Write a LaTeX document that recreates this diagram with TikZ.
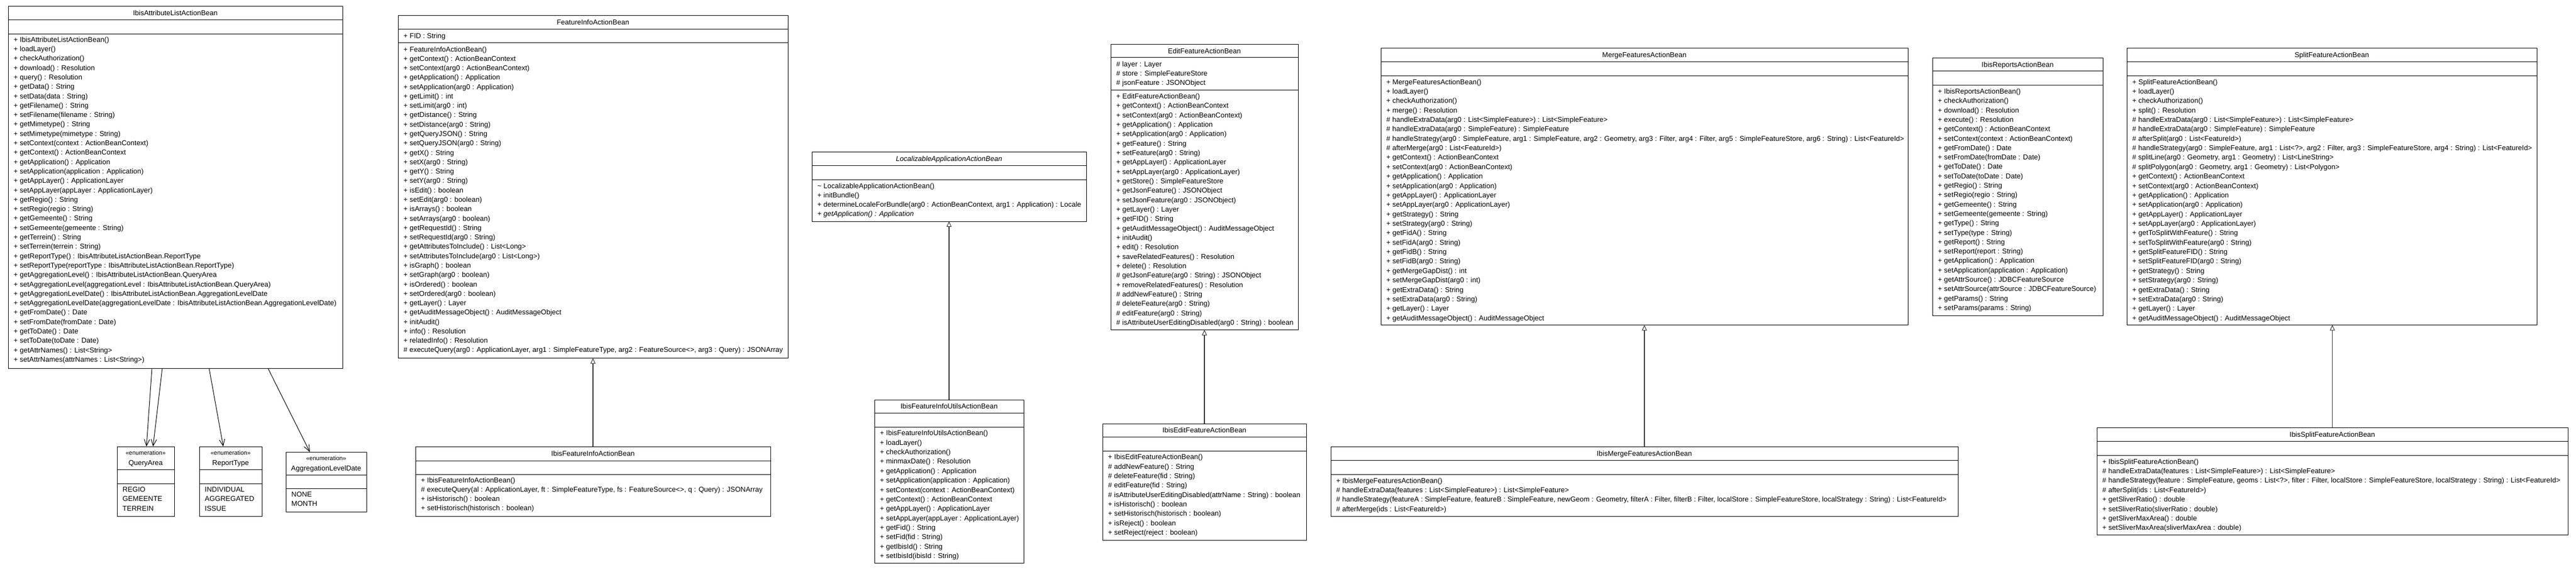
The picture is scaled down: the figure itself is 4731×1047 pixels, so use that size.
\documentclass[tikz,border=0pt]{standalone}
\usepackage{fontspec}
\setmainfont{Liberation Sans}
\usetikzlibrary{arrows.meta,calc}
\newcommand{\umlrowfont}{\fontsize{13}{17}\selectfont}
\newcommand{\umlstereofont}{\fontsize{11}{13}\selectfont}
\definecolor{genline}{HTML}{333333}
\tikzset{
  classbox/.style={draw=black, line width=1pt, fill=white, inner sep=0pt, outer sep=0pt},
  sepline/.style={draw=black, line width=1pt},
  rowtext/.style={font=\umlrowfont, inner sep=0pt, text=black},
  titletext/.style={font=\umlrowfont, inner sep=0pt, text=black},
  stereo/.style={font=\umlstereofont, inner sep=0pt, text=black},
  gen/.style={draw=genline, line width=1.4pt, -{Triangle[open, length=10pt, width=9pt, line width=1pt]}},
  assoc/.style={draw=black, line width=1pt, -{Straight Barb[length=12pt, width=10pt, line width=1pt]}}
}
\newcommand{\umlclass}[7]{%
  \node[classbox, minimum width={(#4-(#2))*1pt}, minimum height={(#5-(#3))*1pt}, anchor=north west] (#1) at (#2,#3) {};
  \draw[sepline] (#2,#6) -- (#4,#6);
  \draw[sepline] (#2,#7) -- (#4,#7);
}
\newcommand{\umltitle}[4]{\node[titletext, anchor=base] (#1) at (#2,#3) {#4};}
\newcommand{\umlrows}[5]{%
  \foreach \rowtxt [count=\i from 0] in {#5} {\node[rowtext, anchor=base west] (#1-\i) at (#2,{#3+\i*#4}) {\rowtxt};}%
}
\begin{document}
\begin{tikzpicture}[x=1pt, y=-1pt]
\useasboundingbox (0,0) rectangle (4731,1047);
\fill[white] (0,0) rectangle (4731,1047);

% ---------------- IbisAttributeListActionBean
\umlclass{A}{15}{11}{629}{677}{36}{62}
\umltitle{A-t}{322}{28.1}{IbisAttributeListActionBean}
\umlrows{A-r}{25}{77.2}{17.3}{%
{+ IbisAttributeListActionBean()},%
{+ loadLayer()},%
{+ checkAuthorization()},%
{+ download() : Resolution},%
{+ query() : Resolution},%
{+ getData() : String},%
{+ setData(data : String)},%
{+ getFilename() : String},%
{+ setFilename(filename : String)},%
{+ getMimetype() : String},%
{+ setMimetype(mimetype : String)},%
{+ setContext(context : ActionBeanContext)},%
{+ getContext() : ActionBeanContext},%
{+ getApplication() : Application},%
{+ setApplication(application : Application)},%
{+ getAppLayer() : ApplicationLayer},%
{+ setAppLayer(appLayer : ApplicationLayer)},%
{+ getRegio() : String},%
{+ setRegio(regio : String)},%
{+ getGemeente() : String},%
{+ setGemeente(gemeente : String)},%
{+ getTerrein() : String},%
{+ setTerrein(terrein : String)},%
{+ getReportType() : IbisAttributeListActionBean.ReportType},%
{+ setReportType(reportType : IbisAttributeListActionBean.ReportType)},%
{+ getAggregationLevel() : IbisAttributeListActionBean.QueryArea},%
{+ setAggregationLevel(aggregationLevel : IbisAttributeListActionBean.QueryArea)},%
{+ getAggregationLevelDate() : IbisAttributeListActionBean.AggregationLevelDate},%
{+ setAggregationLevelDate(aggregationLevelDate : IbisAttributeListActionBean.AggregationLevelDate)},%
{+ getFromDate() : Date},%
{+ setFromDate(fromDate : Date)},%
{+ getToDate() : Date},%
{+ setToDate(toDate : Date)},%
{+ getAttrNames() : List<String>},%
{+ setAttrNames(attrNames : List<String>)}}

% ---------------- enumerations
\umlclass{QA}{215}{821}{320}{949}{863}{889}
\node[stereo, anchor=base] (QA-s) at (267.5,836.8) {«enumeration»};
\umltitle{QA-t}{267.5}{855.6}{QueryArea}
\umlrows{QA-r}{225}{904.5}{17.4}{{REGIO},{GEMEENTE},{TERREIN}}

\umlclass{RT}{366}{821}{481}{949}{863}{889}
\node[stereo, anchor=base] (RT-s) at (423.5,836.8) {«enumeration»};
\umltitle{RT-t}{423.5}{855.6}{ReportType}
\umlrows{RT-r}{376}{904.5}{17.4}{{INDIVIDUAL},{AGGREGATED},{ISSUE}}

\umlclass{ALD}{525}{831}{673}{941}{873}{898}
\node[stereo, anchor=base] (ALD-s) at (599,846.9) {«enumeration»};
\umltitle{ALD-t}{599}{865.6}{AggregationLevelDate}
\umlrows{ALD-r}{535}{913.2}{17.4}{{NONE},{MONTH}}

% ---------------- FeatureInfoActionBean
\umlclass{F}{731}{28.5}{1447}{658.5}{53.5}{78.7}
\umltitle{F-t}{1089}{45.6}{FeatureInfoActionBean}
\node[rowtext, anchor=base west] (F-a) at (741,70.6) {+ FID : String};
\umlrows{F-r}{741}{95}{17.28}{%
{+ FeatureInfoActionBean()},%
{+ getContext() : ActionBeanContext},%
{+ setContext(arg0 : ActionBeanContext)},%
{+ getApplication() : Application},%
{+ setApplication(arg0 : Application)},%
{+ getLimit() : int},%
{+ setLimit(arg0 : int)},%
{+ getDistance() : String},%
{+ setDistance(arg0 : String)},%
{+ getQueryJSON() : String},%
{+ setQueryJSON(arg0 : String)},%
{+ getX() : String},%
{+ setX(arg0 : String)},%
{+ getY() : String},%
{+ setY(arg0 : String)},%
{+ isEdit() : boolean},%
{+ setEdit(arg0 : boolean)},%
{+ isArrays() : boolean},%
{+ setArrays(arg0 : boolean)},%
{+ getRequestId() : String},%
{+ setRequestId(arg0 : String)},%
{+ getAttributesToInclude() : List<Long>},%
{+ setAttributesToInclude(arg0 : List<Long>)},%
{+ isGraph() : boolean},%
{+ setGraph(arg0 : boolean)},%
{+ isOrdered() : boolean},%
{+ setOrdered(arg0 : boolean)},%
{+ getLayer() : Layer},%
{+ getAuditMessageObject() : AuditMessageObject},%
{+ initAudit()},%
{+ info() : Resolution},%
{+ relatedInfo() : Resolution},%
{\# executeQuery(arg0 : ApplicationLayer, arg1 : SimpleFeatureType, arg2 : FeatureSource<>, arg3 : Query) : JSONArray}}

% ---------------- IbisFeatureInfoActionBean
\umlclass{IF}{763}{821}{1415}{949}{847}{872}
\umltitle{IF-t}{1089}{838.6}{IbisFeatureInfoActionBean}
\umlrows{IF-r}{773}{887}{17.3}{%
{+ IbisFeatureInfoActionBean()},%
{\# executeQuery(al : ApplicationLayer, ft : SimpleFeatureType, fs : FeatureSource<>, q : Query) : JSONArray},%
{+ isHistorisch() : boolean},%
{+ setHistorisch(historisch : boolean)}}

% ---------------- LocalizableApplicationActionBean
\umlclass{L}{1491}{279}{1995}{407}{304}{330}
\umltitle{L-t}{1743}{296.1}{\itshape LocalizableApplicationActionBean}
\umlrows{L-r}{1501}{346.1}{17.2}{%
{\textasciitilde{} LocalizableApplicationActionBean()},%
{+ initBundle()},%
{+ determineLocaleForBundle(arg0 : ActionBeanContext, arg1 : Application) : Locale},%
{\itshape + getApplication() : Application}}

% ---------------- IbisFeatureInfoUtilsActionBean
\umlclass{U}{1606}{735}{1880}{1035}{759}{785}
\umltitle{U-t}{1743}{751.6}{IbisFeatureInfoUtilsActionBean}
\umlrows{U-r}{1616}{800.9}{17.35}{%
{+ IbisFeatureInfoUtilsActionBean()},%
{+ loadLayer()},%
{+ checkAuthorization()},%
{+ minmaxDate() : Resolution},%
{+ getApplication() : Application},%
{+ setApplication(application : Application)},%
{+ setContext(context : ActionBeanContext)},%
{+ getContext() : ActionBeanContext},%
{+ getAppLayer() : ApplicationLayer},%
{+ setAppLayer(appLayer : ApplicationLayer)},%
{+ getFid() : String},%
{+ setFid(fid : String)},%
{+ getIbisId() : String},%
{+ setIbisId(ibisId : String)}}

% ---------------- EditFeatureActionBean
\umlclass{E}{2040}{81.5}{2384}{606.5}{105.5}{165.7}
\umltitle{E-t}{2212}{98.1}{EditFeatureActionBean}
\umlrows{E-a}{2050}{122.1}{17.35}{%
{\# layer : Layer},%
{\# store : SimpleFeatureStore},%
{\# jsonFeature : JSONObject}}
\umlrows{E-r}{2050}{181.5}{17.33}{%
{+ EditFeatureActionBean()},%
{+ getContext() : ActionBeanContext},%
{+ setContext(arg0 : ActionBeanContext)},%
{+ getApplication() : Application},%
{+ setApplication(arg0 : Application)},%
{+ getFeature() : String},%
{+ setFeature(arg0 : String)},%
{+ getAppLayer() : ApplicationLayer},%
{+ setAppLayer(arg0 : ApplicationLayer)},%
{+ getStore() : SimpleFeatureStore},%
{+ getJsonFeature() : JSONObject},%
{+ setJsonFeature(arg0 : JSONObject)},%
{+ getLayer() : Layer},%
{+ getFID() : String},%
{+ getAuditMessageObject() : AuditMessageObject},%
{+ initAudit()},%
{+ edit() : Resolution},%
{+ saveRelatedFeatures() : Resolution},%
{+ delete() : Resolution},%
{\# getJsonFeature(arg0 : String) : JSONObject},%
{+ removeRelatedFeatures() : Resolution},%
{\# addNewFeature() : String},%
{\# deleteFeature(arg0 : String)},%
{\# editFeature(arg0 : String)},%
{\# isAttributeUserEditingDisabled(arg0 : String) : boolean}}

% ---------------- IbisEditFeatureActionBean
\umlclass{IE}{2025}{779}{2399}{993}{803.6}{829.7}
\umltitle{IE-t}{2212}{795.9}{IbisEditFeatureActionBean}
\umlrows{IE-r}{2035}{844.8}{17.33}{%
{+ IbisEditFeatureActionBean()},%
{\# addNewFeature() : String},%
{\# deleteFeature(fid : String)},%
{\# editFeature(fid : String)},%
{\# isAttributeUserEditingDisabled(attrName : String) : boolean},%
{+ isHistorisch() : boolean},%
{+ setHistorisch(historisch : boolean)},%
{+ isReject() : boolean},%
{+ setReject(reject : boolean)}}

% ---------------- MergeFeaturesActionBean
\umlclass{M}{2536}{88.4}{3504}{597.5}{113.7}{139}
\umltitle{M-t}{3020}{105.6}{MergeFeaturesActionBean}
\umlrows{M-r}{2546}{155.1}{17.36}{%
{+ MergeFeaturesActionBean()},%
{+ loadLayer()},%
{+ checkAuthorization()},%
{+ merge() : Resolution},%
{\# handleExtraData(arg0 : List<SimpleFeature>) : List<SimpleFeature>},%
{\# handleExtraData(arg0 : SimpleFeature) : SimpleFeature},%
{\# handleStrategy(arg0 : SimpleFeature, arg1 : SimpleFeature, arg2 : Geometry, arg3 : Filter, arg4 : Filter, arg5 : SimpleFeatureStore, arg6 : String) : List<FeatureId>},%
{\# afterMerge(arg0 : List<FeatureId>)},%
{+ getContext() : ActionBeanContext},%
{+ setContext(arg0 : ActionBeanContext)},%
{+ getApplication() : Application},%
{+ setApplication(arg0 : Application)},%
{+ getAppLayer() : ApplicationLayer},%
{+ setAppLayer(arg0 : ApplicationLayer)},%
{+ getStrategy() : String},%
{+ setStrategy(arg0 : String)},%
{+ getFidA() : String},%
{+ setFidA(arg0 : String)},%
{+ getFidB() : String},%
{+ setFidB(arg0 : String)},%
{+ getMergeGapDist() : int},%
{+ setMergeGapDist(arg0 : int)},%
{+ getExtraData() : String},%
{+ setExtraData(arg0 : String)},%
{+ getLayer() : Layer},%
{+ getAuditMessageObject() : AuditMessageObject}}

% ---------------- IbisMergeFeaturesActionBean
\umlclass{IM}{2444}{821}{3596}{949}{846.6}{872}
\umltitle{IM-t}{3020}{838.4}{IbisMergeFeaturesActionBean}
\umlrows{IM-r}{2454}{888.1}{17.3}{%
{+ IbisMergeFeaturesActionBean()},%
{\# handleExtraData(features : List<SimpleFeature>) : List<SimpleFeature>},%
{\# handleStrategy(featureA : SimpleFeature, featureB : SimpleFeature, newGeom : Geometry, filterA : Filter, filterB : Filter, localStore : SimpleFeatureStore, localStrategy : String) : List<FeatureId>},%
{\# afterMerge(ids : List<FeatureId>)}}

% ---------------- IbisReportsActionBean
\umlclass{R}{3549}{106.5}{3862}{580}{130.5}{156.5}
\umltitle{R-t}{3705.5}{123.1}{IbisReportsActionBean}
\umlrows{R-r}{3559}{172.5}{17.3}{%
{+ IbisReportsActionBean()},%
{+ checkAuthorization()},%
{+ download() : Resolution},%
{+ execute() : Resolution},%
{+ getContext() : ActionBeanContext},%
{+ setContext(context : ActionBeanContext)},%
{+ getFromDate() : Date},%
{+ setFromDate(fromDate : Date)},%
{+ getToDate() : Date},%
{+ setToDate(toDate : Date)},%
{+ getRegio() : String},%
{+ setRegio(regio : String)},%
{+ getGemeente() : String},%
{+ setGemeente(gemeente : String)},%
{+ getType() : String},%
{+ setType(type : String)},%
{+ getReport() : String},%
{+ setReport(report : String)},%
{+ getApplication() : Application},%
{+ setApplication(application : Application)},%
{+ getAttrSource() : JDBCFeatureSource},%
{+ setAttrSource(attrSource : JDBCFeatureSource)},%
{+ getParams() : String},%
{+ setParams(params : String)}}

% ---------------- SplitFeatureActionBean
\umlclass{S}{3906}{88.4}{4659}{597.5}{113.7}{139}
\umltitle{S-t}{4282.5}{105.6}{SplitFeatureActionBean}
\umlrows{S-r}{3916}{155.1}{17.36}{%
{+ SplitFeatureActionBean()},%
{+ loadLayer()},%
{+ checkAuthorization()},%
{+ split() : Resolution},%
{\# handleExtraData(arg0 : List<SimpleFeature>) : List<SimpleFeature>},%
{\# handleExtraData(arg0 : SimpleFeature) : SimpleFeature},%
{\# afterSplit(arg0 : List<FeatureId>)},%
{\# handleStrategy(arg0 : SimpleFeature, arg1 : List<?>, arg2 : Filter, arg3 : SimpleFeatureStore, arg4 : String) : List<FeatureId>},%
{\# splitLine(arg0 : Geometry, arg1 : Geometry) : List<LineString>},%
{\# splitPolygon(arg0 : Geometry, arg1 : Geometry) : List<Polygon>},%
{+ getContext() : ActionBeanContext},%
{+ setContext(arg0 : ActionBeanContext)},%
{+ getApplication() : Application},%
{+ setApplication(arg0 : Application)},%
{+ getAppLayer() : ApplicationLayer},%
{+ setAppLayer(arg0 : ApplicationLayer)},%
{+ getToSplitWithFeature() : String},%
{+ setToSplitWithFeature(arg0 : String)},%
{+ getSplitFeatureFID() : String},%
{+ setSplitFeatureFID(arg0 : String)},%
{+ getStrategy() : String},%
{+ setStrategy(arg0 : String)},%
{+ getExtraData() : String},%
{+ setExtraData(arg0 : String)},%
{+ getLayer() : Layer},%
{+ getAuditMessageObject() : AuditMessageObject}}

% ---------------- IbisSplitFeatureActionBean
\umlclass{IS}{3851}{786}{4716}{983}{811.6}{837.5}
\umltitle{IS-t}{4283.5}{803.4}{IbisSplitFeatureActionBean}
\umlrows{IS-r}{3861}{853}{17.4}{%
{+ IbisSplitFeatureActionBean()},%
{\# handleExtraData(features : List<SimpleFeature>) : List<SimpleFeature>},%
{\# handleStrategy(feature : SimpleFeature, geoms : List<?>, filter : Filter, localStore : SimpleFeatureStore, localStrategy : String) : List<FeatureId>},%
{\# afterSplit(ids : List<FeatureId>)},%
{+ getSliverRatio() : double},%
{+ setSliverRatio(sliverRatio : double)},%
{+ getSliverMaxArea() : double},%
{+ setSliverMaxArea(sliverMaxArea : double)}}

% ---------------- generalizations
\draw[gen] (IF.north) -- (IF.north |- F.south);
\draw[gen] (U.north) -- (U.north |- L.south);
\draw[gen] (IE.north) -- (IE.north |- E.south);
\draw[gen] (IM.north) -- (IM.north |- M.south);
\draw[gen] (IS.north) -- (IS.north |- S.south);

% ---------------- associations
\draw[assoc] ($(A.south west)!0.430!(A.south east)$) -- ($(QA.north west)!0.514!(QA.north east)$);
\draw[assoc] ($(A.south west)!0.461!(A.south east)$) -- ($(QA.north west)!0.629!(QA.north east)$);
\draw[assoc] ($(A.south west)!0.601!(A.south east)$) -- ($(RT.north west)!0.383!(RT.north east)$);
\draw[assoc] ($(A.south west)!0.777!(A.south east)$) -- ($(ALD.north west)!0.297!(ALD.north east)$);
\end{tikzpicture}
\end{document}
